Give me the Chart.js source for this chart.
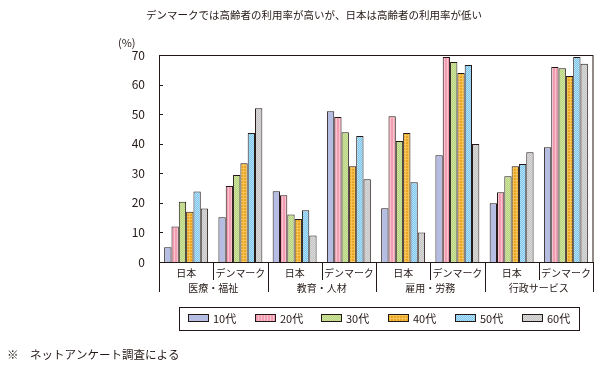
<!DOCTYPE html>
<html><head><meta charset="utf-8">
<script src="https://cdn.jsdelivr.net/npm/chart.js@4/dist/chart.umd.min.js"></script>
<style>html,body{margin:0;padding:0;background:#fff;}#wrap{width:604px;height:373px;}</style>
</head><body><div id="wrap"><canvas id="c" width="604" height="373"></canvas></div>
<script>
const titleText = 'デンマークでは高齢者の利用率が高いが、日本は高齢者の利用率が低い';
const unitText = '(%)';
const noteText = '※　ネットアンケート調査による';
const regions = ['医療・福祉','教育・人材','雇用・労務','行政サービス'];
const categories = ['日本','デンマーク','日本','デンマーク','日本','デンマーク','日本','デンマーク'];
const ageGroups = ['10代','20代','30代','40代','50代','60代'];
const age10 = [5.0, 15.1, 23.9, 51.0, 18.2, 36.1, 19.9, 38.8];
const age20 = [12.0, 25.7, 22.6, 49.0, 49.3, 69.3, 23.6, 65.9];
const age30 = [20.4, 29.4, 16.1, 43.9, 40.9, 67.6, 29.0, 65.5];
const age40 = [17.0, 33.4, 14.5, 32.4, 43.6, 63.9, 32.4, 62.9];
const age50 = [23.8, 43.6, 17.5, 42.6, 27.0, 66.6, 33.1, 69.3];
const age60 = [18.1, 52.0, 9.0, 28.0, 10.0, 39.9, 37.1, 67.0];
const yTicks = [0, 10, 20, 30, 40, 50, 60, 70];

const INK = '#231815';
const FONT = '"Noto Sans CJK JP", "Noto Sans", sans-serif';

function makePattern(w, h, draw) {
  const c = document.createElement('canvas');
  c.width = w; c.height = h;
  const g = c.getContext('2d');
  draw(g);
  return document.getElementById('c').getContext('2d').createPattern(c, 'repeat');
}
const fills = [
  '#b6bde3',
  makePattern(3, 1, g => { g.fillStyle = '#f29db1'; g.fillRect(0,0,3,1); g.fillStyle = '#f8c3cf'; g.fillRect(0,0,1,1); }),
  makePattern(2, 2, g => { g.fillStyle = '#b7d37c'; g.fillRect(0,0,2,2); g.fillStyle = '#d0e4a3'; g.fillRect(0,0,1,1); g.fillRect(1,1,1,1); }),
  makePattern(3, 3, g => { g.fillStyle = '#eca521'; g.fillRect(0,0,3,3); g.fillStyle = '#f4c458'; g.fillRect(0,0,3,1); g.fillRect(0,0,1,3); }),
  makePattern(2, 2, g => { g.fillStyle = '#7cc7ee'; g.fillRect(0,0,2,2); g.fillStyle = '#b5e0f7'; g.fillRect(0,0,1,1); g.fillRect(1,1,1,1); }),
  makePattern(2, 2, g => { g.fillStyle = '#c4c4c4'; g.fillRect(0,0,2,2); g.fillStyle = '#dadada'; g.fillRect(0,0,1,1); g.fillRect(1,1,1,1); })
];
const seriesData = [age10, age20, age30, age40, age50, age60];

const decor = {
  id: 'decor',
  afterDraw(chart) {
    const ctx = chart.ctx;
    const a = chart.chartArea;
    const x = chart.scales.x, y = chart.scales.y;
    ctx.save();
    ctx.strokeStyle = INK; ctx.lineWidth = 1;
    ctx.strokeRect(Math.round(a.left) + 0.5, Math.round(a.top) + 0.5, Math.round(a.right - a.left) - 0.5, Math.round(a.bottom - a.top));
    ctx.beginPath();
    yTicks.forEach(v => {
      if (v === 0 || v === 70) return;
      const py = Math.round(y.getPixelForValue(v)) + 0.5;
      ctx.moveTo(a.left, py); ctx.lineTo(a.left + 4, py);
    });
    ctx.stroke();
    const bottom = Math.round(a.bottom);
    ctx.beginPath();
    for (let i = 0; i <= categories.length; i++) {
      let px;
      if (i === 0) px = a.left;
      else if (i === categories.length) px = a.right;
      else px = (x.getPixelForValue(i - 1) + x.getPixelForValue(i)) / 2;
      px = Math.round(px) + 0.5;
      const len = (i % 2 === 0) ? 30 : 18;
      ctx.moveTo(px, bottom); ctx.lineTo(px, bottom + len);
    }
    ctx.stroke();
    ctx.fillStyle = INK;
    ctx.textAlign = 'center'; ctx.textBaseline = 'middle';
    ctx.font = '10px ' + FONT;
    categories.forEach((c, i) => {
      ctx.fillText(c, x.getPixelForValue(i), bottom + 11);
    });
    regions.forEach((r, k) => {
      const cx = (x.getPixelForValue(2 * k) + x.getPixelForValue(2 * k + 1)) / 2;
      ctx.fillText(r, cx, bottom + 26);
    });
    ctx.font = '10.5px ' + FONT;
    ctx.fillText(titleText, 314, 15);
    ctx.font = '11px ' + FONT;
    ctx.textAlign = 'left';
    ctx.fillText(unitText, 118, 43);
    ctx.font = '11.5px ' + FONT;
    ctx.fillText(noteText, 7, 355);
    ctx.strokeRect(179.5, 307.5, 400, 23);
    ctx.font = '11px ' + FONT;
    chart.data.datasets.forEach((ds, i) => {
      const sx = 188 + i * 66.7;
      ctx.fillStyle = ds.backgroundColor;
      ctx.fillRect(Math.round(sx), 314, 21, 8);
      ctx.strokeStyle = INK;
      ctx.strokeRect(Math.round(sx) + 0.5, 314.5, 20, 7);
      ctx.fillStyle = INK;
      ctx.fillText(ds.label, Math.round(sx) + 25, 319);
    });
    ctx.restore();
  }
};

new Chart(document.getElementById('c'), {
  type: 'bar',
  data: {
    labels: categories,
    datasets: ageGroups.map((g, i) => ({
      label: g,
      data: seriesData[i],
      backgroundColor: fills[i],
      borderColor: INK,
      borderWidth: 1,
      categoryPercentage: 0.81,
      barPercentage: 1.0
    }))
  },
  options: {
    responsive: false,
    animation: false,
    devicePixelRatio: 1,
    layout: { padding: { left: 0, right: 11, top: 55, bottom: 111 } },
    plugins: { legend: { display: false }, title: { display: false }, tooltip: { enabled: false } },
    scales: {
      x: { display: false },
      y: {
        min: 0, max: 70,
        afterFit(scale) { scale.width = 159; },
        afterBuildTicks(scale) { scale.ticks = yTicks.map(v => ({ value: v })); },
        grid: { display: false },
        border: { display: false },
        ticks: { color: INK, padding: 6, font: { size: 12, family: FONT } }
      }
    }
  },
  plugins: [decor]
});
</script></body></html>
